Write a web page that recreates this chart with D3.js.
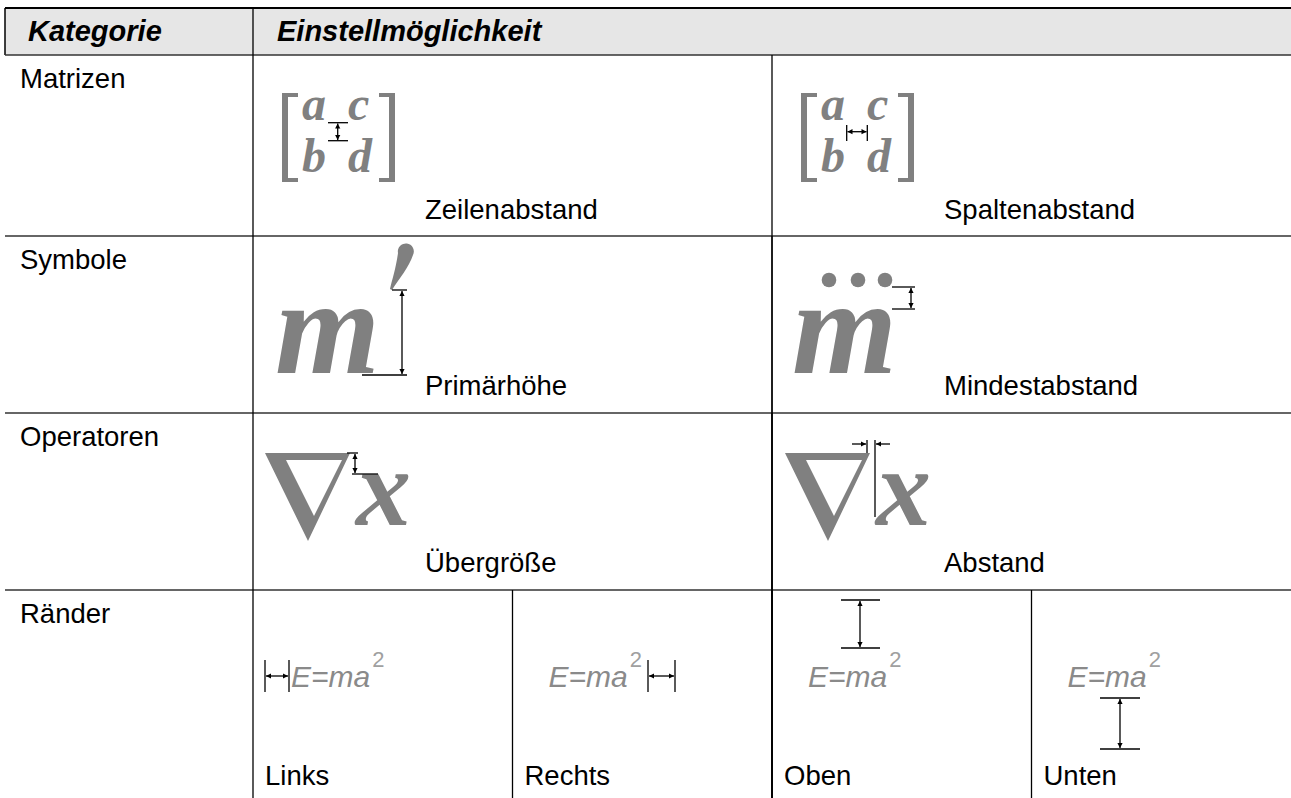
<!DOCTYPE html>
<html><head><meta charset="utf-8">
<script src="https://cdn.jsdelivr.net/npm/d3@7"></script>
<style>html,body{margin:0;padding:0;background:#fff;overflow:hidden}svg{display:block}</style>
</head><body>
<svg id="c" width="1291" height="798"></svg>
<script>
// ---- data ----
const headers = ["Kategorie", "Einstellmöglichkeit"];
const categories = ["Matrizen", "Symbole", "Operatoren", "Ränder"];
const matrizenLabels = ["Zeilenabstand", "Spaltenabstand"];
const symboleLabels = ["Primärhöhe", "Mindestabstand"];
const operatorenLabels = ["Übergröße", "Abstand"];
const raenderLabels = ["Links", "Rechts", "Oben", "Unten"];
const matrixEntries = [["a", "c"], ["b", "d"]];
const symbolLetter = "m";
const operandLetter = "x";
const formulaText = "E=ma";
const formulaExponent = "2";

// ---- layout ----
const W = 1291, H = 798;
const tableLeft = 5, catRight = 253;
const rowEdges = [8, 55, 236, 413, 590, 830];
const rowKeys = ["__header", ...categories];
const rowTop = d3.scaleOrdinal().domain(rowKeys).range(rowEdges.slice(0, 5));
const rowBottom = d3.scaleOrdinal().domain(rowKeys).range(rowEdges.slice(1));
const labelSets = [matrizenLabels, symboleLabels, operatorenLabels, raenderLabels];

const SANS = "'Liberation Sans', Arial, sans-serif";
const SERIF = "'Liberation Serif', 'Times New Roman', serif";
const GLYPH = "#808080";
const FS = 27.5, HFS = 29;

const svg = d3.select("#c");
const gLines = svg.append("g");
const gText = svg.append("g");
const gArt = svg.append("g");

// header background
gLines.append("rect").attr("x", tableLeft).attr("y", rowTop("__header"))
  .attr("width", W - tableLeft).attr("height", rowBottom("__header") - rowTop("__header"))
  .attr("fill", "#e6e6e6");

function line(g, x1, y1, x2, y2, w = 1.3, c = "#000") {
  g.append("line").attr("x1", x1).attr("y1", y1).attr("x2", x2).attr("y2", y2)
    .attr("stroke", c).attr("stroke-width", w);
}

// table lines
line(gLines, tableLeft, rowTop("__header"), W, rowTop("__header"), 2);
line(gLines, tableLeft, rowTop("__header"), tableLeft, rowBottom("__header"), 1.5);
categories.forEach(c => line(gLines, tableLeft, rowTop(c), W, rowTop(c), 1.4, "#333"));
line(gLines, catRight, rowTop("__header"), catRight, H, 1.3);

// header text
gText.selectAll("text.h").data(headers).join("text").attr("class", "h")
  .attr("x", (d, i) => i === 0 ? 28 : catRight + 24)
  .attr("y", rowTop("__header") + 33)
  .attr("font-family", SANS).attr("font-size", HFS).attr("font-weight", "bold")
  .attr("font-style", "italic").attr("fill", "#000").text(d => d);

// category text
gText.selectAll("text.cat").data(categories).join("text").attr("class", "cat")
  .attr("x", 20).attr("y", d => rowTop(d) + 33)
  .attr("font-family", SANS).attr("font-size", FS).attr("fill", "#000").text(d => d);

// setting cells
const labelBaseOffset = [164, 159, 159, 195];
const bands = [];
categories.forEach((cat, i) => {
  const labels = labelSets[i];
  const xb = d3.scaleBand().domain(labels).range([catRight, W]);
  bands.push(xb);
  labels.forEach((lab, j) => {
    if (j > 0) line(gLines, xb(lab), rowTop(cat), xb(lab), H, 1.3);
  });
  const padX = labels.length === 4 ? 12 : 172;
  gText.selectAll("text.s" + i).data(labels).join("text").attr("class", "s" + i)
    .attr("x", d => xb(d) + padX).attr("y", rowTop(cat) + labelBaseOffset[i])
    .attr("font-family", SANS).attr("font-size", FS).attr("fill", "#000").text(d => d);
});

// ---- drawing helpers ----
function head(g, x, y, dir) {
  const L = 5, w = 2.6;
  let pts;
  if (dir === "up") pts = [[x, y], [x - w, y + L], [x + w, y + L]];
  if (dir === "down") pts = [[x, y], [x - w, y - L], [x + w, y - L]];
  if (dir === "left") pts = [[x, y], [x + L, y - w], [x + L, y + w]];
  if (dir === "right") pts = [[x, y], [x - L, y - w], [x - L, y + w]];
  g.append("path").attr("d", "M" + pts.map(p => p.join(",")).join("L") + "Z").attr("fill", "#000");
}
function dimV(g, x, y1, y2) { line(g, x, y1, x, y2, 1.3); head(g, x, y1, "up"); head(g, x, y2, "down"); }
function dimH(g, x1, x2, y) { line(g, x1, y, x2, y, 1.3); head(g, x1, y, "left"); head(g, x2, y, "right"); }

function glyph(g, x, y, t, size) {
  return g.append("text").attr("x", x).attr("y", y).attr("font-family", SERIF)
    .attr("font-weight", "bold").attr("font-style", "italic").attr("font-size", size)
    .attr("fill", GLYPH).text(t);
}

function bracket(g, x, y1, y2, side) {
  const bw = 6, sw = 4, serif = 16;
  if (side === "left") {
    g.append("path").attr("fill", GLYPH).attr("d",
      `M${x},${y1}H${x + serif}V${y1 + sw}H${x + bw}V${y2 - sw}H${x + serif}V${y2}H${x}Z`);
  } else {
    g.append("path").attr("fill", GLYPH).attr("d",
      `M${x},${y1}H${x - serif}V${y1 + sw}H${x - bw}V${y2 - sw}H${x - serif}V${y2}H${x}Z`);
  }
}

function matrix(g, x0, y0) {
  bracket(g, x0 + 29, y0 + 38, y0 + 127, "left");
  bracket(g, x0 + 142, y0 + 38, y0 + 127, "right");
  const colX = [49, 95], rowY = [65, 117];
  matrixEntries.forEach((row, r) => row.forEach((e, c) => glyph(g, x0 + colX[c], y0 + rowY[r], e, 48)));
}

function nabla(g, x0, y0) {
  g.append("path").attr("fill", GLYPH).attr("fill-rule", "evenodd").attr("d",
    `M${x0 + 12},${y0 + 40}L${x0 + 97},${y0 + 40}L${x0 + 55},${y0 + 128}Z` +
    `M${x0 + 33},${y0 + 47}L${x0 + 89},${y0 + 47}L${x0 + 61},${y0 + 103}Z`);
}

function formula(g, x, y) {
  const t = g.append("text").attr("x", x).attr("y", y).attr("font-family", SANS)
    .attr("font-style", "italic").attr("font-size", 30).attr("fill", "#8a8a8a").text(formulaText);
  const len = t.node().getComputedTextLength();
  g.append("text").attr("x", x + len + 2).attr("y", y - 20).attr("font-family", SANS)
    .attr("font-size", 22).attr("font-weight", 300).attr("fill", "#a0a0a0").text(formulaExponent);
  return x + len + 14;
}

// ---- Matrizen ----
{
  const xb = bands[0], y0 = rowTop("Matrizen");
  const xa = xb(matrizenLabels[0]), xc = xb(matrizenLabels[1]);
  matrix(gArt, xa, y0);
  line(gArt, xa + 75, y0 + 67.7, xa + 95, y0 + 67.7, 1.3);
  line(gArt, xa + 75, y0 + 85.7, xa + 95, y0 + 85.7, 1.3);
  dimV(gArt, xa + 84.7, y0 + 68.5, y0 + 85);
  matrix(gArt, xc, y0);
  line(gArt, xc + 74.7, y0 + 70, xc + 74.7, y0 + 86, 1.3);
  line(gArt, xc + 95.3, y0 + 70, xc + 95.3, y0 + 86, 1.3);
  dimH(gArt, xc + 75.5, xc + 94.5, y0 + 76.7);
}

// ---- Symbole ----
{
  const xb = bands[1], y0 = rowTop("Symbole");
  const xa = xb(symboleLabels[0]), xc = xb(symboleLabels[1]);
  glyph(gArt, xa + 22, y0 + 137, symbolLetter, 135);
  // prime
  gArt.append("path").attr("fill", GLYPH).attr("d",
    `M${xa + 137},${y0 + 53}C${xa + 139},${y0 + 44} ${xa + 143},${y0 + 32} ${xa + 145},${y0 + 17}` +
    `A8,8 0 1 1 ${xa + 160},${y0 + 19}C${xa + 156},${y0 + 31} ${xa + 146},${y0 + 43} ${xa + 139},${y0 + 54}Z`);
  line(gArt, xa + 139, y0 + 54, xa + 154, y0 + 54, 1.3);
  line(gArt, xa + 109, y0 + 139, xa + 154, y0 + 139, 1.3);
  dimV(gArt, xa + 149, y0 + 55, y0 + 138);

  glyph(gArt, xc + 20, y0 + 137, symbolLetter, 135);
  gArt.selectAll("circle.dot").data([57, 86, 113]).join("circle").attr("class", "dot")
    .attr("cx", d => xc + d).attr("cy", y0 + 44).attr("r", 7.3).attr("fill", GLYPH);
  line(gArt, xc + 120, y0 + 51, xc + 143, y0 + 51, 1.3);
  line(gArt, xc + 120, y0 + 73, xc + 143, y0 + 73, 1.3);
  dimV(gArt, xc + 139, y0 + 52, y0 + 72);
}

// ---- Operatoren ----
{
  const xb = bands[2], y0 = rowTop("Operatoren");
  const xa = xb(operatorenLabels[0]), xc = xb(operatorenLabels[1]);
  nabla(gArt, xa, y0);
  glyph(gArt, xa + 103, y0 + 112, operandLetter, 110);
  line(gArt, xa + 94, y0 + 40, xa + 105, y0 + 40, 1.3);
  line(gArt, xa + 99, y0 + 61, xa + 125, y0 + 61, 1.3);
  dimV(gArt, xa + 102, y0 + 41, y0 + 60);

  nabla(gArt, xc + 1, y0);
  glyph(gArt, xc + 104, y0 + 112, operandLetter, 110);
  line(gArt, xc + 103, y0 + 27, xc + 103, y0 + 104, 1.3);
  line(gArt, xc + 95, y0 + 27, xc + 95, y0 + 40, 1.3);
  line(gArt, xc + 80, y0 + 31, xc + 94, y0 + 31, 1.3);
  head(gArt, xc + 94, y0 + 31, "right");
  line(gArt, xc + 104, y0 + 31, xc + 118, y0 + 31, 1.3);
  head(gArt, xc + 104, y0 + 31, "left");
}

// ---- Ränder ----
{
  const xb = bands[3], y0 = rowTop("Ränder");
  const [xl, xr, xo, xu] = raenderLabels.map(d => xb(d));
  // Links
  line(gArt, xl + 12, y0 + 70, xl + 12, y0 + 102, 1.3);
  line(gArt, xl + 36, y0 + 70, xl + 36, y0 + 102, 1.3);
  dimH(gArt, xl + 13, xl + 35, y0 + 86);
  formula(gArt, xl + 38, y0 + 97);
  // Rechts
  formula(gArt, xr + 36, y0 + 97);
  line(gArt, xr + 135.5, y0 + 70, xr + 135.5, y0 + 102, 1.3);
  line(gArt, xr + 162.5, y0 + 70, xr + 162.5, y0 + 102, 1.3);
  dimH(gArt, xr + 136.5, xr + 161.5, y0 + 86);
  // Oben
  formula(gArt, xo + 36, y0 + 97);
  line(gArt, xo + 69, y0 + 10, xo + 108, y0 + 10, 1.3);
  line(gArt, xo + 69, y0 + 58, xo + 108, y0 + 58, 1.3);
  dimV(gArt, xo + 88, y0 + 11, y0 + 57);
  // Unten
  formula(gArt, xu + 36, y0 + 97);
  line(gArt, xu + 68.5, y0 + 108, xu + 108.5, y0 + 108, 1.3);
  line(gArt, xu + 68.5, y0 + 159, xu + 108.5, y0 + 159, 1.3);
  dimV(gArt, xu + 88.5, y0 + 109, y0 + 158);
}
</script>
</body></html>
